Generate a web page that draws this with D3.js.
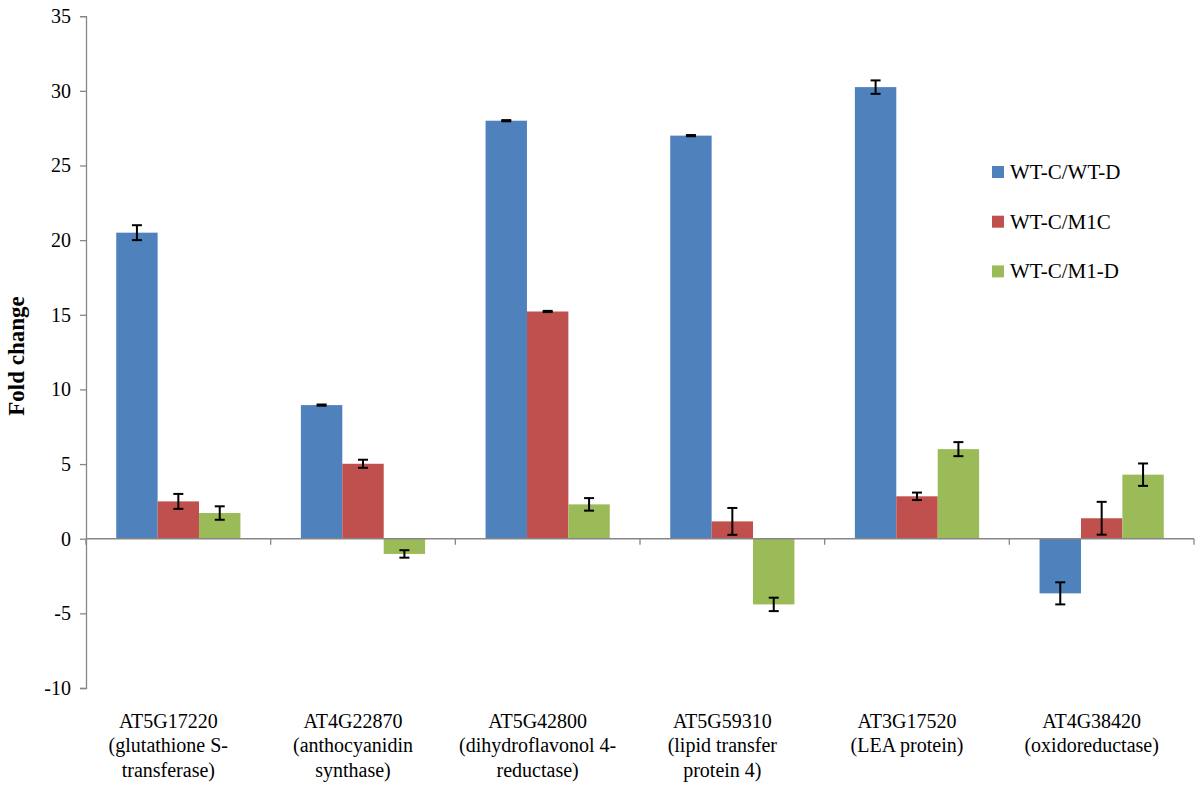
<!DOCTYPE html>
<html>
<head>
<meta charset="utf-8">
<script src="https://cdn.jsdelivr.net/npm/d3@7"></script>
<style>
  html, body { margin: 0; padding: 0; background: #fff; }
  svg { display: block; font-family: "Liberation Serif", "Times New Roman", serif; }
</style>
</head>
<body>
<svg id="chart" width="1200" height="791"></svg>
<script>
// gene ids and their descriptions (split into lines as in the figure)
var genes = ["AT5G17220", "AT4G22870", "AT5G42800", "AT5G59310", "AT3G17520", "AT4G38420"];
var geneLines = [
  ["AT5G17220", "(glutathione S-", "transferase)"],
  ["AT4G22870", "(anthocyanidin", "synthase)"],
  ["AT5G42800", "(dihydroflavonol 4-", "reductase)"],
  ["AT5G59310", "(lipid transfer", "protein 4)"],
  ["AT3G17520", "(LEA protein)"],
  ["AT4G38420", "(oxidoreductase)"]
];
var seriesNames = ["WT-C/WT-D", "WT-C/M1C", "WT-C/M1-D"];
var seriesColors = ["#4F81BD", "#C0504D", "#9BBB59"];

// fold change values, one array per series
var wtD = [20.5, 8.95, 28.0, 27.0, 30.25, -3.66];
var m1C = [2.5, 5.02, 15.22, 1.16, 2.84, 1.37];
var m1D = [1.72, -1.02, 2.3, -4.4, 6.0, 4.29];
// error bar half-widths
var wtDErr = [0.5, 0.04, 0.04, 0.04, 0.45, 0.74];
var m1CErr = [0.5, 0.27, 0.04, 0.9, 0.25, 1.1];
var m1DErr = [0.45, 0.25, 0.42, 0.45, 0.47, 0.75];

var yTicks = [-10, -5, 0, 5, 10, 15, 20, 25, 30, 35];

(function () {
  var values = [wtD, m1C, m1D];
  var errors = [wtDErr, m1CErr, m1DErr];

  var svg = d3.select("#chart");
  var mLeft = 86, mRight = 1194, mTop = 16.2, mBottom = 688;

  var x = d3.scaleBand().domain(genes).range([mLeft, mRight]).paddingInner(0).paddingOuter(0);
  var xs = d3.scaleBand().domain(seriesNames).range([0, x.bandwidth()]).paddingInner(0).paddingOuter(0.73);
  var y = d3.scaleLinear().domain([-10, 35]).range([mBottom, mTop]);

  var axisColor = "#868686";

  // y axis
  var yAxis = svg.append("g")
    .attr("transform", "translate(" + mLeft + ",0)")
    .call(d3.axisLeft(y).tickValues(yTicks).tickSize(6).tickPadding(9)
      .tickFormat(function (d) { return String(d); }));
  yAxis.select(".domain").attr("stroke", axisColor).attr("stroke-width", 1.3);
  yAxis.selectAll(".tick line").attr("stroke", axisColor).attr("stroke-width", 1.3);
  yAxis.selectAll(".tick text")
    .attr("fill", "#000")
    .style("font-size", "20px")
    .style("font-family", "Liberation Serif, serif");

  // bars
  var groups = svg.append("g").selectAll("g")
    .data(genes)
    .join("g")
    .attr("transform", function (d) { return "translate(" + x(d) + ",0)"; });

  groups.each(function (gene, gi) {
    var g = d3.select(this);
    seriesNames.forEach(function (s, si) {
      var v = values[si][gi];
      g.append("rect")
        .attr("x", xs(s))
        .attr("width", xs.bandwidth())
        .attr("y", y(Math.max(0, v)))
        .attr("height", Math.abs(y(v) - y(0)))
        .attr("fill", seriesColors[si]);
    });
  });

  // x axis (zero line with ticks at category boundaries)
  var xAxisG = svg.append("g");
  xAxisG.append("line")
    .attr("x1", mLeft).attr("x2", mRight)
    .attr("y1", y(0)).attr("y2", y(0))
    .attr("stroke", axisColor).attr("stroke-width", 1.5);
  var bounds = genes.map(function (d) { return x(d); }).concat([mRight]);
  xAxisG.selectAll("line.tk")
    .data(bounds)
    .join("line")
    .attr("class", "tk")
    .attr("x1", function (d) { return d; }).attr("x2", function (d) { return d; })
    .attr("y1", y(0)).attr("y2", y(0) + 6)
    .attr("stroke", axisColor).attr("stroke-width", 1.3);

  // error bars
  groups.each(function (gene, gi) {
    var g = d3.select(this);
    seriesNames.forEach(function (s, si) {
      var v = values[si][gi], e = errors[si][gi];
      var cx = xs(s) + xs.bandwidth() / 2;
      var capW = 5;
      g.append("line")
        .attr("x1", cx).attr("x2", cx)
        .attr("y1", y(v + e)).attr("y2", y(v - e))
        .attr("stroke", "#000").attr("stroke-width", 2);
      [v + e, v - e].forEach(function (yy) {
        g.append("line")
          .attr("x1", cx - capW).attr("x2", cx + capW)
          .attr("y1", y(yy)).attr("y2", y(yy))
          .attr("stroke", "#000").attr("stroke-width", 2);
      });
    });
  });

  // category labels (sit a little left of the band centre, as in the figure)
  groups.each(function (gene, gi) {
    var g = d3.select(this);
    var t = g.append("text")
      .attr("text-anchor", "middle")
      .attr("y", 728)
      .style("font-size", "20px")
      .attr("fill", "#000");
    geneLines[gi].forEach(function (line, li) {
      t.append("tspan")
        .attr("x", x.bandwidth() / 2 - 10)
        .attr("dy", li === 0 ? 0 : 24.3)
        .text(line);
    });
  });

  // y axis title
  svg.append("text")
    .attr("transform", "translate(24,356) rotate(-90)")
    .attr("text-anchor", "middle")
    .style("font-size", "23px")
    .style("font-weight", "bold")
    .attr("fill", "#000")
    .text("Fold change");

  // legend
  var legend = svg.append("g").attr("transform", "translate(992,172)");
  var item = legend.selectAll("g")
    .data(seriesNames)
    .join("g")
    .attr("transform", function (d, i) { return "translate(0," + i * 49.7 + ")"; });
  item.append("rect")
    .attr("x", 0).attr("y", -6)
    .attr("width", 12).attr("height", 12)
    .attr("fill", function (d, i) { return seriesColors[i]; });
  item.append("text")
    .attr("x", 18)
    .attr("y", 7)
    .style("font-size", "21px")
    .attr("fill", "#000")
    .text(function (d) { return d; });
})();
</script>
</body>
</html>
